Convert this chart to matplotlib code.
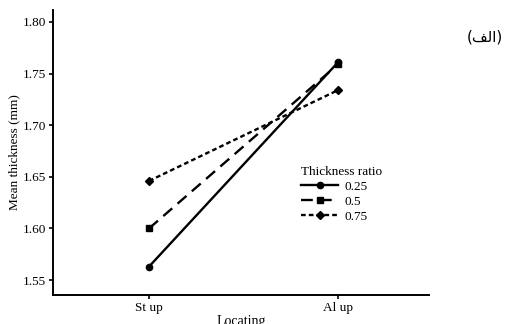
import matplotlib
matplotlib.use('Agg')
import matplotlib.pyplot as plt

# data
LOCATIONS = ['St up', 'Al up']
RATIOS = ['0.25', '0.5', '0.75']
MEAN_025 = [1.563, 1.761]
MEAN_05 = [1.600, 1.759]
MEAN_075 = [1.646, 1.734]
Y_TICKS = [1.55, 1.60, 1.65, 1.70, 1.75, 1.80]

plt.rcParams['font.family'] = ['Liberation Serif', 'DejaVu Serif']

fig = plt.figure(figsize=(5.07, 3.24), dpi=100)
ax = fig.add_axes([53 / 507, 29 / 324, 376 / 507, 285 / 324])

x = [1, 2]
ax.plot(x, MEAN_025, '-', color='black', lw=1.7, marker='o', ms=4.5,
        label=RATIOS[0])
ax.plot(x, MEAN_05, color='black', lw=1.7, marker='s', ms=5,
        dashes=(5, 3), label=RATIOS[1])
ax.plot(x, MEAN_075, color='black', lw=1.7, marker='D', ms=4.5,
        dashes=(2, 1.3), label=RATIOS[2])

ax.set_xlim(0.492, 2.481)
ax.set_ylim(1.5355, 1.8116)
ax.set_xticks(x)
ax.set_xticklabels(LOCATIONS)
ax.set_yticks(Y_TICKS)
ax.set_yticklabels(['{:.2f}'.format(v) for v in Y_TICKS])
ax.tick_params(labelsize=9.5, length=3, width=1.2, pad=2)

for side in ['top', 'right']:
    ax.spines[side].set_visible(False)
for side in ['left', 'bottom']:
    ax.spines[side].set_linewidth(1.4)

ax.set_ylabel('Mean thickness (mm)', fontsize=9.5, labelpad=1.5)
ax.set_xlabel('Locating', fontsize=10, labelpad=1)

leg = ax.legend(title='Thickness ratio', frameon=False, fontsize=9.5,
                title_fontsize=9.5, loc='upper left',
                bbox_to_anchor=(292 / 507, 1 - 157 / 324),
                bbox_transform=fig.transFigure, handlelength=2.8,
                handletextpad=0.5, labelspacing=0.2, borderpad=0.2)
leg._legend_box.align = 'left'

# Persian panel label, given in shaped presentation forms
fig.text(0.957, 0.885, '(\ufed2\ufedf\ufe8d)', family=['DejaVu Sans'],
         fontsize=11, ha='center', va='center')

fig.savefig('out.png', dpi=100)
